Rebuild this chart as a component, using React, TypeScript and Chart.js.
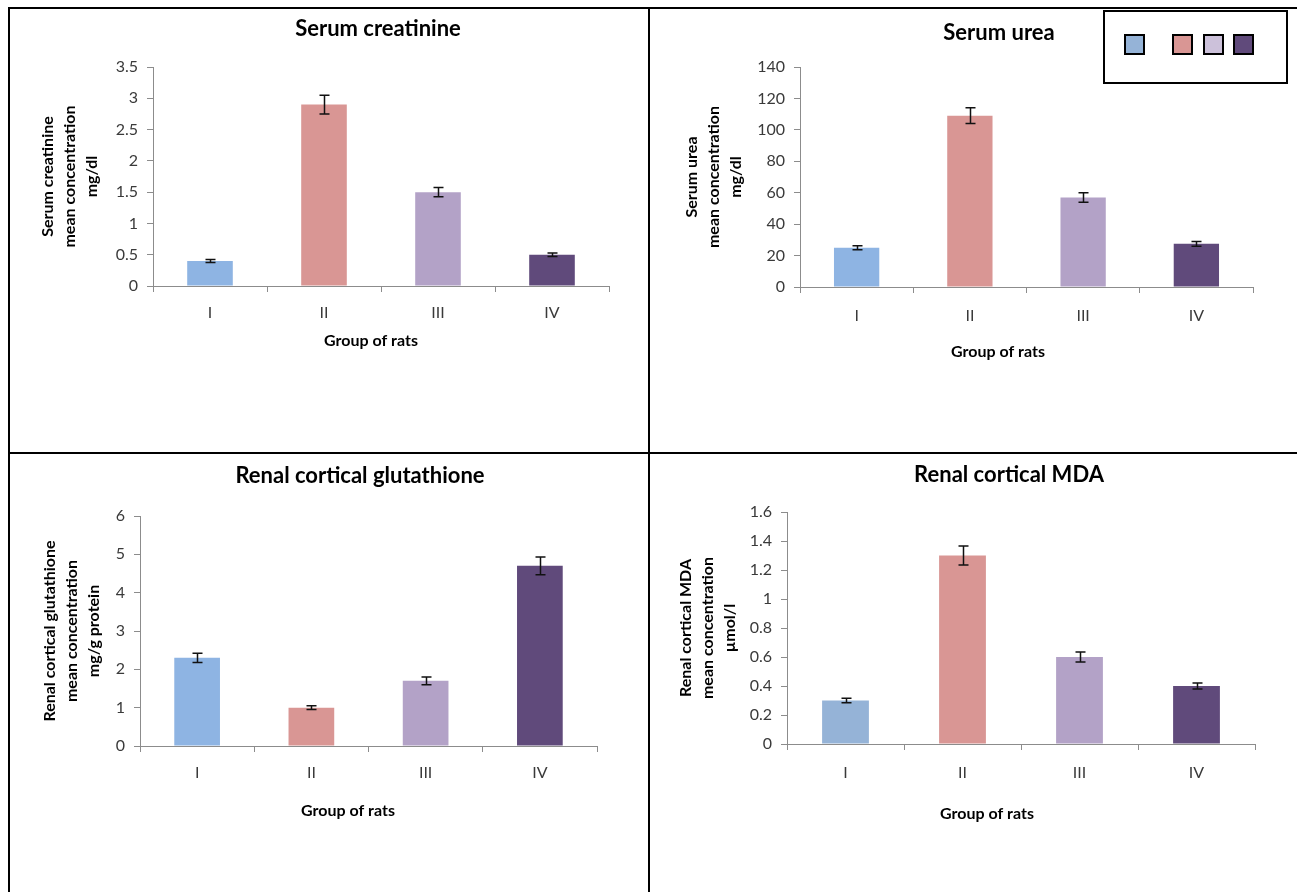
import React, { useEffect, useRef } from 'react';
import { Chart, registerables } from 'chart.js';

Chart.register(...registerables);

// ---------- data ----------
const groups = ['I', 'II', 'III', 'IV'];
const barColors = ['#8EB4E3', '#D99694', '#B3A2C7', '#604A7B'];
const mdaBarColors = ['#95B3D7', '#D99694', '#B3A2C7', '#604A7B'];
const legendColors = ['#95B3D7', '#D99694', '#CCC1DA', '#604A7B'];

const creatinineMean = [0.4, 2.9, 1.5, 0.5];
const creatinineErr = [0.025, 0.15, 0.075, 0.027];
const creatinineAxis = [0, 3.5, 0.5]; // min, max, step

const ureaMean = [25, 109, 57, 27.5];
const ureaErr = [1.3, 5, 3, 1.5];
const ureaAxis = [0, 140, 20];

const gshMean = [2.3, 1.0, 1.7, 4.7];
const gshErr = [0.12, 0.05, 0.1, 0.23];
const gshAxis = [0, 6, 1];

const mdaMean = [0.3, 1.3, 0.6, 0.4];
const mdaErr = [0.016, 0.065, 0.035, 0.02];
const mdaAxis = [0, 1.6, 0.2];

const xAxisTitle = 'Group of rats';

// ---------- styling / layout ----------
const FONT = 'Lato';
const AXIS_COLOR = '#8c8c8c';
const TICK_COLOR = '#3a3a3a';
const TICK_SIZE = 16;
const X_SCALE_HEIGHT = 40;

type Panel = {
  title: string;
  yTitle: string[];
  means: number[];
  errs: number[];
  axis: number[];
  colors: string[];
  canvas: { x: number; y: number; w: number; h: number };
  plot: { l: number; t: number; r: number; b: number };
  titlePos: [number, number];
  xTitlePos: [number, number];
  yTitleX: number;
  xLabelY: number;
};

const panels: Panel[] = [
  {
    title: 'Serum creatinine',
    yTitle: ['Serum creatinine', 'mean concentration', 'mg/dl'],
    means: creatinineMean,
    errs: creatinineErr,
    axis: creatinineAxis,
    colors: barColors,
    canvas: { x: 10, y: 9, w: 638, h: 443 },
    plot: { l: 153, t: 67, r: 609, b: 286 },
    titlePos: [378, 29],
    xTitlePos: [371, 341],
    yTitleX: 48,
    xLabelY: 313,
  },
  {
    title: 'Serum urea',
    yTitle: ['Serum urea', 'mean concentration', 'mg/dl'],
    means: ureaMean,
    errs: ureaErr,
    axis: ureaAxis,
    colors: barColors,
    canvas: { x: 650, y: 9, w: 647, h: 443 },
    plot: { l: 800, t: 67, r: 1253, b: 287 },
    titlePos: [999, 33],
    xTitlePos: [998, 352],
    yTitleX: 692,
    xLabelY: 316,
  },
  {
    title: 'Renal cortical glutathione',
    yTitle: ['Renal cortical glutathione', 'mean concentration', 'mg/g protein'],
    means: gshMean,
    errs: gshErr,
    axis: gshAxis,
    colors: barColors,
    canvas: { x: 10, y: 454, w: 638, h: 438 },
    plot: { l: 140, t: 516, r: 597, b: 746 },
    titlePos: [360, 476],
    xTitlePos: [348, 811],
    yTitleX: 50,
    xLabelY: 773,
  },
  {
    title: 'Renal cortical MDA',
    yTitle: ['Renal cortical MDA', 'mean concentration', 'µmol/l'],
    means: mdaMean,
    errs: mdaErr,
    axis: mdaAxis,
    colors: mdaBarColors,
    canvas: { x: 650, y: 454, w: 647, h: 438 },
    plot: { l: 787, t: 512, r: 1255, b: 744 },
    titlePos: [1009, 475],
    xTitlePos: [987, 814],
    yTitleX: 686,
    xLabelY: 773,
  },
];

const errorBarsPlugin = {
  id: 'errorBars',
  afterDatasetsDraw(chart: any, _args: any, opts: any) {
    const meta = chart.getDatasetMeta(0);
    const ys = chart.scales.y;
    const ctx = chart.ctx;
    ctx.save();
    ctx.strokeStyle = '#111';
    ctx.lineWidth = 1.5;
    meta.data.forEach((bar: any, i: number) => {
      const m = opts.means[i];
      const e = opts.errs[i];
      const x = Math.round(bar.x) + 0.5;
      const y1 = ys.getPixelForValue(m + e);
      const y2 = ys.getPixelForValue(m - e);
      ctx.beginPath();
      ctx.moveTo(x, y1);
      ctx.lineTo(x, y2);
      ctx.moveTo(x - 5, y1);
      ctx.lineTo(x + 5, y1);
      ctx.moveTo(x - 5, y2);
      ctx.lineTo(x + 5, y2);
      ctx.stroke();
    });
    ctx.restore();
  },
};

const panelTextPlugin = {
  id: 'panelText',
  afterDraw(chart: any, _args: any, opts: any) {
    const ctx = chart.ctx;
    ctx.save();
    ctx.fillStyle = '#000';
    ctx.textAlign = 'center';
    ctx.textBaseline = 'middle';
    ctx.font = `bold 22px ${FONT}`;
    ctx.fillText(opts.title, opts.titleX, opts.titleY);
    ctx.font = `bold 16px ${FONT}`;
    ctx.fillText(opts.xTitle, opts.xTitleX, opts.xTitleY);
    ctx.restore();
  },
};

function BarPanel({ p }: { p: Panel }) {
  const ref = useRef<HTMLCanvasElement | null>(null);
  useEffect(() => {
    if (!ref.current) return;
    const { canvas, plot } = p;
    const yWidth = plot.l - canvas.x;
    const padRight = canvas.x + canvas.w - plot.r;
    const padTop = plot.t - canvas.y;
    const padBottom = canvas.y + canvas.h - plot.b - X_SCALE_HEIGHT;
    const yTitleSize = 16;
    const yTitleLH = 22;
    const chart = new Chart(ref.current, {
      type: 'bar',
      data: {
        labels: groups,
        datasets: [
          {
            data: p.means,
            backgroundColor: p.colors,
            borderWidth: 0,
            barPercentage: 0.4,
            categoryPercentage: 1,
          },
        ],
      },
      plugins: [errorBarsPlugin, panelTextPlugin],
      options: {
        responsive: false,
        animation: false,
        events: [],
        layout: { padding: { left: 0, right: padRight, top: padTop, bottom: padBottom } },
        plugins: {
          legend: { display: false },
          title: { display: false },
          tooltip: { enabled: false },
          errorBars: { means: p.means, errs: p.errs },
          panelText: {
            title: p.title,
            titleX: p.titlePos[0] - canvas.x,
            titleY: p.titlePos[1] - canvas.y,
            xTitle: xAxisTitle,
            xTitleX: p.xTitlePos[0] - canvas.x,
            xTitleY: p.xTitlePos[1] - canvas.y,
          },
        } as any,
        scales: {
          x: {
            offset: true,
            grid: {
              display: true,
              drawOnChartArea: false,
              drawTicks: true,
              tickLength: 6,
              color: AXIS_COLOR,
              offset: true,
            },
            border: { display: true, color: AXIS_COLOR, width: 1 },
            ticks: {
              color: TICK_COLOR,
              font: { family: FONT, size: TICK_SIZE },
              padding: p.xLabelY - plot.b - 6 - (TICK_SIZE * 1.2) / 2,
              maxRotation: 0,
            },
            afterFit: (s: any) => {
              s.height = X_SCALE_HEIGHT;
            },
          },
          y: {
            min: p.axis[0],
            max: p.axis[1],
            grid: {
              display: true,
              drawOnChartArea: false,
              drawTicks: true,
              tickLength: 6,
              color: AXIS_COLOR,
            },
            border: { display: true, color: AXIS_COLOR, width: 1 },
            ticks: {
              stepSize: p.axis[2],
              color: TICK_COLOR,
              font: { family: FONT, size: TICK_SIZE },
              padding: 9,
              callback: (v: any) => String(+Number(v).toFixed(2)),
            },
            title: {
              display: true,
              text: p.yTitle,
              color: '#000',
              font: { family: FONT, size: yTitleSize, weight: 'bold', lineHeight: yTitleLH / yTitleSize },
              padding: { top: p.yTitleX - canvas.x - yTitleLH / 2, bottom: 0 },
            },
            afterFit: (s: any) => {
              s.width = yWidth;
            },
          },
        },
      } as any,
    });
    return () => chart.destroy();
  }, [p]);
  return (
    <canvas
      ref={ref}
      width={p.canvas.w}
      height={p.canvas.h}
      style={{
        position: 'absolute',
        left: p.canvas.x,
        top: p.canvas.y,
        width: p.canvas.w,
        height: p.canvas.h,
      }}
    />
  );
}

const line = (left: number, top: number, width: number, height: number) => (
  <div
    style={{ position: 'absolute', left, top, width, height, background: '#000', zIndex: 2 }}
  />
);

export default function App() {
  return (
    <div
      style={{
        position: 'absolute',
        left: 0,
        top: 0,
        width: 1297,
        height: 892,
        background: '#fff',
        overflow: 'hidden',
      }}
    >
      {panels.map((p, i) => (
        <BarPanel key={i} p={p} />
      ))}
      {line(8, 7, 1289, 2)}
      {line(8, 7, 2, 885)}
      {line(648, 7, 2, 885)}
      {line(8, 452, 1289, 2)}
      <div
        style={{
          position: 'absolute',
          left: 1103,
          top: 10,
          width: 181,
          height: 70,
          border: '2px solid #000',
          background: '#fff',
          zIndex: 3,
        }}
      >
        {legendColors.map((c, i) => (
          <div
            key={i}
            style={{
              position: 'absolute',
              left: [19, 67, 98, 128][i],
              top: 22,
              width: 17,
              height: 17,
              border: '2px solid #000',
              background: c,
            }}
          />
        ))}
      </div>
    </div>
  );
}
